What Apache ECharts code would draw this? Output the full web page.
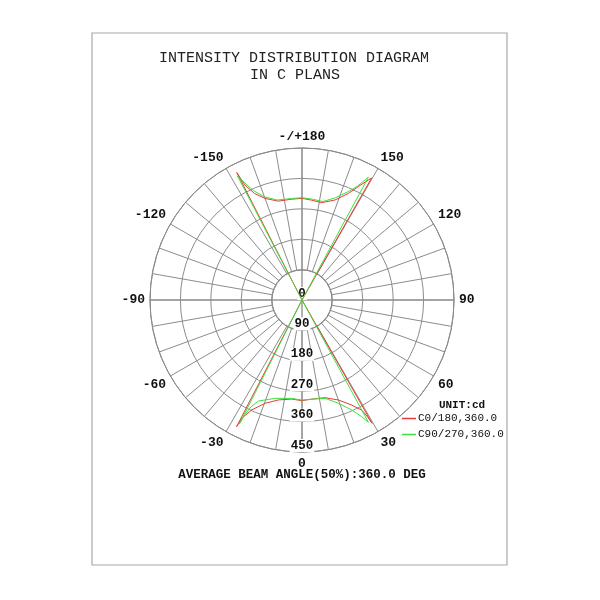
<!DOCTYPE html>
<html>
<head>
<meta charset="utf-8">
<script src="https://cdn.jsdelivr.net/npm/echarts@6/dist/echarts.min.js"></script>
<style>html,body{margin:0;padding:0;background:#fff}#c{width:600px;height:600px}</style>
</head>
<body>
<div id="c"></div>
<script>
// Diagram angle convention: 0 = down, +90 = right, +/-180 = up, -90 = left
const seriesNames = ['C0/180,360.0', 'C90/270,360.0'];
const c0Angles = [-180, -174, -166.5, -160, -156, -153.6, -152.9, -90, -27.3, -27, -24.6, -19.7, -13.3, -6, 0, 5.6, 13.2, 20, 25.3, 28.5, 29.3, 29.6, 90, 150.3, 153.6, 156.5, 161.7, 168.6, 174.5, 180];
const c0Values = [301, 300, 301, 320, 345, 380, 424, 0, 422, 393, 358, 325, 304, 295, 298, 295, 297, 315, 344, 371, 397, 420, 0, 416, 375, 344, 312, 294, 297, 301];
const c90Angles = [-180, -174, -166, -160, -156, -154, -152.5, -90, -26.8, -26.5, -25.5, -23.4, -15.4, -6, 0, 5.6, 13.2, 19.4, 24.3, 27.1, 28.5, 90, 151.6, 154, 157, 162, 168, 174, 180];
const c90Values = [303, 302, 305, 325, 355, 385, 414, 0, 411, 380, 350, 326, 302, 293, 296, 295, 299, 324, 357, 388, 412, 0, 413, 375, 348, 318, 298, 300, 303];
const radiusTicks = [0, 90, 180, 270, 360, 450];
const titleLines = ['INTENSITY DISTRIBUTION DIAGRAM', 'IN C PLANS'];
const unitText = 'UNIT:cd';
const beamText = 'AVERAGE BEAM ANGLE(50%):360.0 DEG';

const toPolar = (angles, values) => angles.map((a, i) => [values[i], (a + 360) % 360]);
const angleLabel = v => {
  if (v % 30 !== 0 || v === 360) return '';
  if (v === 0) return '0';
  if (v === 180) return '-/+180';
  return String(v > 180 ? v - 360 : v);
};
const mono = '"Liberation Mono", "DejaVu Sans Mono", monospace';
const CX = 302, CY = 300, R = 152;

const chart = echarts.init(document.getElementById('c'), null, {renderer: 'canvas'});
chart.setOption({
  backgroundColor: '#fff',
  animation: false,
  graphic: [
    {type: 'rect', z: -10, shape: {x: 92, y: 33, width: 415, height: 532},
      style: {fill: 'none', stroke: '#a8a8a8', lineWidth: 1.2}},
    {type: 'text', style: {text: titleLines[0], x: 294, y: 58, align: 'center', verticalAlign: 'middle',
      fontFamily: mono, fontSize: 15, fill: '#222'}},
    {type: 'text', style: {text: titleLines[1], x: 295, y: 75, align: 'center', verticalAlign: 'middle',
      fontFamily: mono, fontSize: 15, fill: '#222'}},
    {type: 'text', style: {text: beamText, x: 302, y: 475, align: 'center', verticalAlign: 'middle',
      fontFamily: mono, fontSize: 12.5, fontWeight: 'bold', fill: '#111'}},
    {type: 'text', style: {text: unitText, x: 462, y: 405, align: 'center', verticalAlign: 'middle',
      fontFamily: mono, fontSize: 11, fontWeight: 'bold', fill: '#111'}}
  ],
  legend: {
    orient: 'vertical', left: 402, top: 413, itemWidth: 14, itemHeight: 1.5, itemGap: 5,
    icon: 'rect', padding: 0,
    textStyle: {fontFamily: mono, fontSize: 11, color: '#111', padding: [0, 0, 0, -3]},
    data: seriesNames
  },
  polar: [
    {center: [CX, CY], radius: [30, R]},
    {center: [CX, CY], radius: [0, R]}
  ],
  angleAxis: [
    {polarIndex: 0, type: 'value', min: 0, max: 360, interval: 10, startAngle: 270, clockwise: false, z: 0,
      axisLine: {show: true, lineStyle: {color: '#808080', width: 1}},
      axisTick: {show: false},
      splitLine: {show: true, lineStyle: {color: '#8c8c8c', width: 1}},
      axisLabel: {margin: 5, formatter: angleLabel, fontFamily: mono, fontSize: 13, fontWeight: 'bold', color: '#111'}},
    {polarIndex: 1, type: 'value', min: 0, max: 360, interval: 90, startAngle: 270, clockwise: false, z: 0,
      axisLine: {show: false}, axisTick: {show: false}, axisLabel: {show: false},
      splitLine: {show: true, lineStyle: {color: '#9a9a9a', width: 1.5}}}
  ],
  radiusAxis: [
    {polarIndex: 0, type: 'value', min: 0, max: 1, show: false},
    {polarIndex: 1, type: 'value', min: radiusTicks[0], max: radiusTicks[radiusTicks.length - 1], interval: 90, z: 1,
      axisLine: {show: false}, axisTick: {show: false},
      splitLine: {show: true, lineStyle: {color: '#8c8c8c', width: 1}},
      axisLabel: {margin: 0, align: 'center', verticalAlign: 'bottom', fontFamily: mono, fontSize: 12.5, fontWeight: 'bold',
        color: '#111', backgroundColor: '#fff', padding: [0, 1, 0, 1]}}
  ],
  series: [
    {name: seriesNames[0], type: 'line', coordinateSystem: 'polar', polarIndex: 1, symbol: 'none', z: 3,
      lineStyle: {color: '#e83a3a', width: 1}, itemStyle: {color: '#e83a3a'},
      data: toPolar(c0Angles, c0Values)},
    {name: seriesNames[1], type: 'line', coordinateSystem: 'polar', polarIndex: 1, symbol: 'none', z: 3,
      lineStyle: {color: '#3ee03e', width: 1}, itemStyle: {color: '#3ee03e'},
      data: toPolar(c90Angles, c90Values)}
  ]
});
</script>
</body>
</html>
